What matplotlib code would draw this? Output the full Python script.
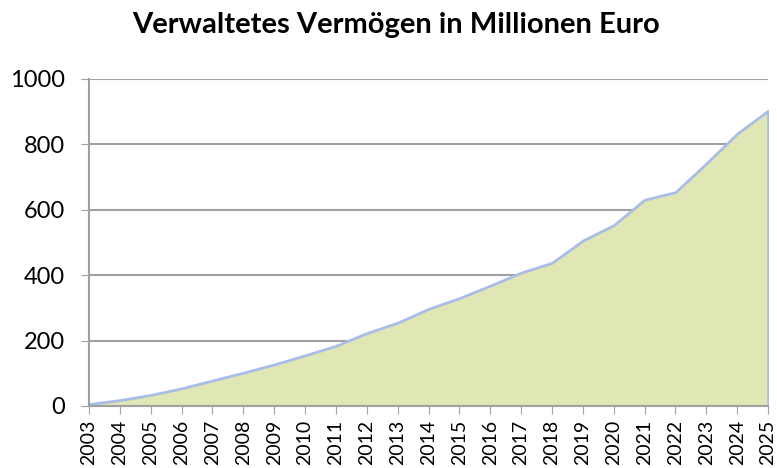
import numpy as np
import matplotlib.pyplot as plt

# Verwaltetes Vermoegen (Mio. EUR)
years = list(range(2003, 2026))
values = [6, 18, 34, 54, 78, 102, 127, 155, 184, 223, 255, 297, 330, 368, 408, 438,
          506, 553, 631, 654, 742, 833, 903]
yticks = [0, 200, 400, 600, 800, 1000]

plt.rcParams['font.family'] = ['Lato', 'DejaVu Sans']

fig = plt.figure(figsize=(7.77, 4.68), dpi=100)
ax = fig.add_axes([0.1145, 0.1325, 0.874, 0.6987])

ax.fill_between(years, values, 0, facecolor='#e0e6b4', edgecolor='#aabde8',
                linewidth=2, zorder=2)

ax.set_xlim(2003, 2025)
ax.set_ylim(0, 1000)
ax.set_yticks(yticks)
ax.set_xticks(years)
ax.set_xticklabels([str(y) for y in years], rotation=90, fontsize=14)
ax.tick_params(axis='y', labelsize=17, length=6, color='#a0a0a0', pad=11)
ax.tick_params(axis='x', length=6, color='#a0a0a0', pad=4)

ax.grid(axis='y', color='#a0a0a0', linewidth=1.5, zorder=1)
ax.set_axisbelow(True)
for s in ['top', 'right']:
    ax.spines[s].set_visible(False)
for s in ['left', 'bottom']:
    ax.spines[s].set_color('#a0a0a0')
    ax.spines[s].set_linewidth(1.5)
    ax.spines[s].set_zorder(3)

fig.suptitle('Verwaltetes Vermögen in Millionen Euro', x=0.51, y=0.975,
             fontsize=21, fontweight='bold')

fig.savefig('out.png', dpi=100)
